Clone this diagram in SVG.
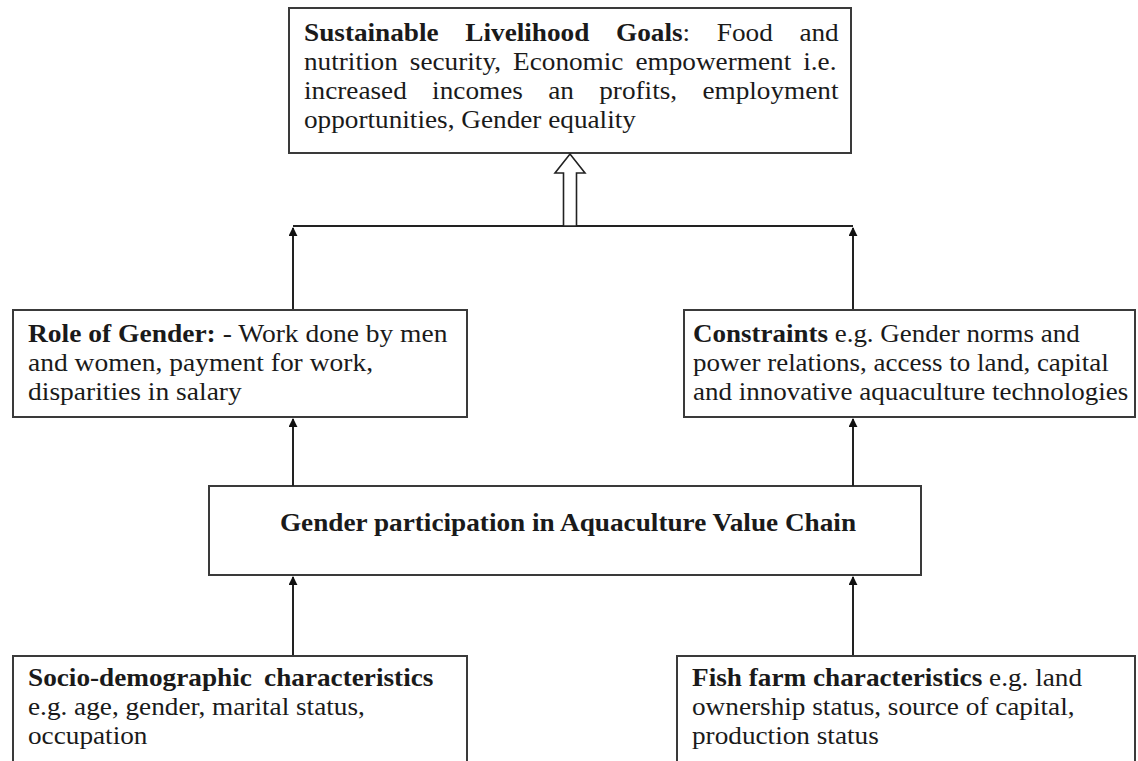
<svg xmlns="http://www.w3.org/2000/svg" width="1138" height="761" viewBox="0 0 1138 761">
<style>
.box{fill:#fff;stroke:#3a3a3a;stroke-width:2}
.t{font-family:"Liberation Serif","Times New Roman",serif;font-size:25px;fill:#1a1a1a}
.b{font-weight:bold}
.ln{fill:none;stroke:#222;stroke-width:2}
</style>
<defs>
<marker id="ah" viewBox="0 0 10 10" refX="9" refY="5" markerWidth="4.5" markerHeight="4.5" orient="auto" markerUnits="strokeWidth">
<path d="M0,0 L10,5 L0,10 z" fill="#111"/>
</marker>
</defs>
<rect width="1138" height="761" fill="#fff"/>

<g id="goals">
<rect class="box" x="289" y="8" width="562" height="145"/>
<text class="t" transform="translate(304,41) scale(1.09,1)" word-spacing="18.2"><tspan class="b">Sustainable Livelihood Goals</tspan>: Food and</text>
<text class="t" transform="translate(304,70) scale(1.09,1)" word-spacing="4.8">nutrition security, Economic empowerment i.e.</text>
<text class="t" transform="translate(304,99) scale(1.09,1)" word-spacing="17">increased incomes an profits, employment</text>
<text class="t" transform="translate(304,128) scale(1.09,1)">opportunities, Gender equality</text>
</g>

<g id="role">
<rect class="box" x="13" y="310" width="454" height="107"/>
<text class="t" transform="translate(28,342) scale(1.1,1)"><tspan class="b">Role of Gender:</tspan> - Work done by men</text>
<text class="t" transform="translate(28,371) scale(1.1,1)">and women, payment for work,</text>
<text class="t" transform="translate(28,400) scale(1.1,1)">disparities in salary</text>
</g>

<g id="constraints">
<rect class="box" x="684" y="310" width="451" height="107"/>
<text class="t" transform="translate(693,342) scale(1.08,1)"><tspan class="b">Constraints</tspan> e.g. Gender norms and</text>
<text class="t" transform="translate(693,371) scale(1.08,1)">power relations, access to land, capital</text>
<text class="t" transform="translate(693,400) scale(1.08,1)">and innovative aquaculture technologies</text>
</g>

<g id="participation">
<rect class="box" x="209" y="486" width="712" height="89"/>
<text class="t b" text-anchor="middle" transform="translate(568,531) scale(1.09,1)">Gender participation in Aquaculture Value Chain</text>
</g>

<g id="socio">
<rect class="box" x="13" y="656" width="454" height="110"/>
<text class="t" transform="translate(28,686) scale(1.09,1)" word-spacing="5"><tspan class="b">Socio-demographic characteristics</tspan></text>
<text class="t" transform="translate(28,715) scale(1.09,1)">e.g. age, gender, marital status,</text>
<text class="t" transform="translate(28,744) scale(1.09,1)">occupation</text>
</g>

<g id="fishfarm">
<rect class="box" x="677" y="656" width="458" height="110"/>
<text class="t" transform="translate(692,686) scale(1.09,1)"><tspan class="b">Fish farm characteristics</tspan> e.g. land</text>
<text class="t" transform="translate(692,715) scale(1.09,1)">ownership status, source of capital,</text>
<text class="t" transform="translate(692,744) scale(1.09,1)">production status</text>
</g>

<g id="connectors">
<line class="ln" x1="293" y1="226" x2="853" y2="226"/>
<line class="ln" x1="293" y1="309" x2="293" y2="228" marker-end="url(#ah)"/>
<line class="ln" x1="853" y1="309" x2="853" y2="228" marker-end="url(#ah)"/>
<line class="ln" x1="293" y1="486" x2="293" y2="419" marker-end="url(#ah)"/>
<line class="ln" x1="853" y1="486" x2="853" y2="419" marker-end="url(#ah)"/>
<line class="ln" x1="293" y1="655" x2="293" y2="577" marker-end="url(#ah)"/>
<line class="ln" x1="853" y1="655" x2="853" y2="577" marker-end="url(#ah)"/>
<polygon points="563.5,226 563.5,173 555,173 570,154 585,173 576.5,173 576.5,226" fill="#fff" stroke="#222" stroke-width="1.6" stroke-linejoin="miter"/>
</g>
</svg>
